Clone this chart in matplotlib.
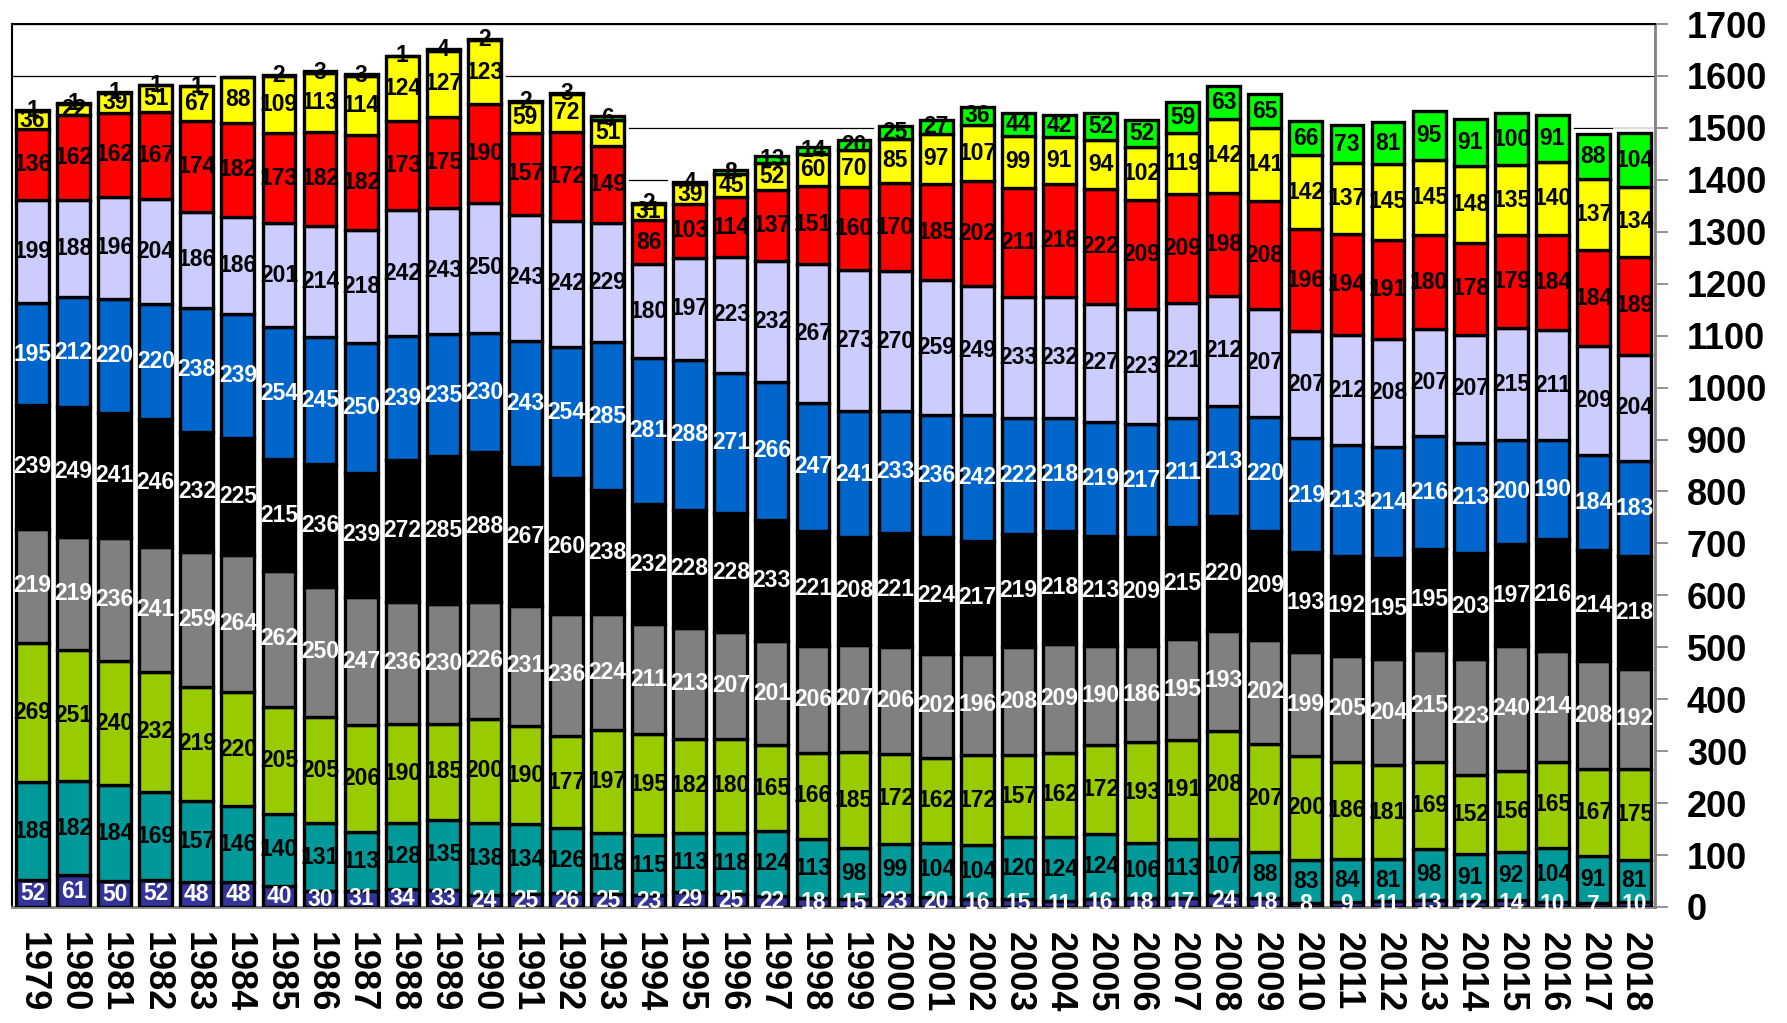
import matplotlib
matplotlib.use("Agg")
import matplotlib.pyplot as plt
import numpy as np

plt.rcParams['font.family'] = ['Liberation Sans', 'DejaVu Sans']

years = [str(y) for y in range(1979, 2019)]

s_navy = [52, 61, 50, 52, 48, 48, 40, 30, 31, 34, 33, 24, 25, 26, 25, 23, 29, 25, 22, 18,
          15, 23, 20, 16, 15, 11, 16, 18, 17, 24, 18, 8, 9, 11, 13, 12, 14, 10, 7, 10]
s_teal = [188, 182, 184, 169, 157, 146, 140, 131, 113, 128, 135, 138, 134, 126, 118, 115, 113, 118, 124, 113,
          98, 99, 104, 104, 120, 124, 124, 106, 113, 107, 88, 83, 84, 81, 98, 91, 92, 104, 91, 81]
s_lime = [269, 251, 240, 232, 219, 220, 205, 205, 206, 190, 185, 200, 190, 177, 197, 195, 182, 180, 165, 166,
          185, 172, 162, 172, 157, 162, 172, 193, 191, 208, 207, 200, 186, 181, 169, 152, 156, 165, 167, 175]
s_gray = [219, 219, 236, 241, 259, 264, 262, 250, 247, 236, 230, 226, 231, 236, 224, 211, 213, 207, 201, 206,
          207, 206, 202, 196, 208, 209, 190, 186, 195, 193, 202, 199, 205, 204, 215, 223, 240, 214, 208, 192]
s_black = [239, 249, 241, 246, 232, 225, 215, 236, 239, 272, 285, 288, 267, 260, 238, 232, 228, 228, 233, 221,
           208, 221, 224, 217, 219, 218, 213, 209, 215, 220, 209, 193, 192, 195, 195, 203, 197, 216, 214, 218]
s_blue = [195, 212, 220, 220, 238, 239, 254, 245, 250, 239, 235, 230, 243, 254, 285, 281, 288, 271, 266, 247,
          241, 233, 236, 242, 222, 218, 219, 217, 211, 213, 220, 219, 213, 214, 216, 213, 200, 190, 184, 183]
s_lav = [199, 188, 196, 204, 186, 186, 201, 214, 218, 242, 243, 250, 243, 242, 229, 180, 197, 223, 232, 267,
         273, 270, 259, 249, 233, 232, 227, 223, 221, 212, 207, 207, 212, 208, 207, 207, 215, 211, 209, 204]
s_red = [136, 162, 162, 167, 174, 182, 173, 182, 182, 173, 175, 190, 157, 172, 149, 86, 103, 114, 137, 151,
         160, 170, 185, 202, 211, 218, 222, 209, 209, 198, 208, 196, 194, 191, 180, 178, 179, 184, 184, 189]
s_yellow = [36, 22, 39, 51, 67, 88, 109, 113, 114, 124, 127, 123, 59, 72, 51, 31, 39, 45, 52, 60,
            70, 85, 97, 107, 99, 91, 94, 102, 119, 142, 141, 142, 137, 145, 145, 148, 135, 140, 137, 134]
s_green = [1, 1, 1, 1, 1, 0, 2, 3, 3, 1, 4, 2, 2, 3, 6, 2, 4, 8, 13, 14,
           20, 25, 27, 36, 44, 42, 52, 52, 59, 63, 65, 66, 73, 81, 95, 91, 100, 91, 88, 104]

series = [s_navy, s_teal, s_lime, s_gray, s_black, s_blue, s_lav, s_red, s_yellow, s_green]
colors = ['#333399', '#009999', '#99CC00', '#808080', '#000000', '#0066CC', '#CCCCFF', '#FF0000', '#FFFF00', '#00FF00']
txtcol = ['white', 'black', 'black', 'white', 'white', 'white', 'black', 'black', 'black', 'black']

W, H = 1787, 1023
fig = plt.figure(figsize=(W / 100, H / 100), dpi=100)
ax = fig.add_axes([12 / W, 1 - 907 / H, (1655 - 12) / W, (907 - 24) / H])

x = np.arange(len(years))
bw = 0.8

# white halo behind bars
bottom = np.zeros(len(years))
for vals in series:
    v = np.array(vals, dtype=float)
    ax.bar(x, v, bw, bottom=bottom, color='white', edgecolor='white', linewidth=7, zorder=2)
    bottom += v

bottom = np.zeros(len(years))
for vals, c, tc in zip(series, colors, txtcol):
    v = np.array(vals, dtype=float)
    ax.bar(x, v, bw, bottom=bottom, color=c, edgecolor='black', linewidth=2.4, zorder=3)
    for xi, b, vi in zip(x, bottom, v):
        if vi > 0:
            ax.text(xi, b + vi / 2, f"{int(vi)}", ha='center', va='center', color=tc,
                    fontsize=16.5, fontweight='bold', zorder=5)
    bottom += v

ax.set_xlim(-0.5, len(years) - 0.5)
ax.set_ylim(0, 1700)
ax.set_yticks(np.arange(0, 1701, 100))
ax.yaxis.tick_right()
ax.yaxis.set_label_position('right')
ax.tick_params(axis='y', direction='out', length=9, width=1.2, color='#808080', pad=14,
               labelsize=26)
for lab in ax.get_yticklabels():
    lab.set_fontweight('bold')
    lab.set_horizontalalignment('left')

ax.set_xticks(x)
ax.set_xticklabels(years, rotation=270, fontsize=26, fontweight='bold', va='top', ha='center')
ax.tick_params(axis='x', length=0, pad=18)

ax.yaxis.grid(True, color='black', linewidth=0.9, zorder=0)
ax.set_axisbelow(True)

ax.spines['left'].set_color('black')
ax.spines['left'].set_linewidth(1.5)
ax.spines['top'].set_color('black')
ax.spines['top'].set_linewidth(1.5)
ax.spines['right'].set_color('#808080')
ax.spines['right'].set_linewidth(2)
ax.spines['bottom'].set_color('#808080')
ax.spines['bottom'].set_linewidth(2)

fig.savefig('out.png', dpi=100)
